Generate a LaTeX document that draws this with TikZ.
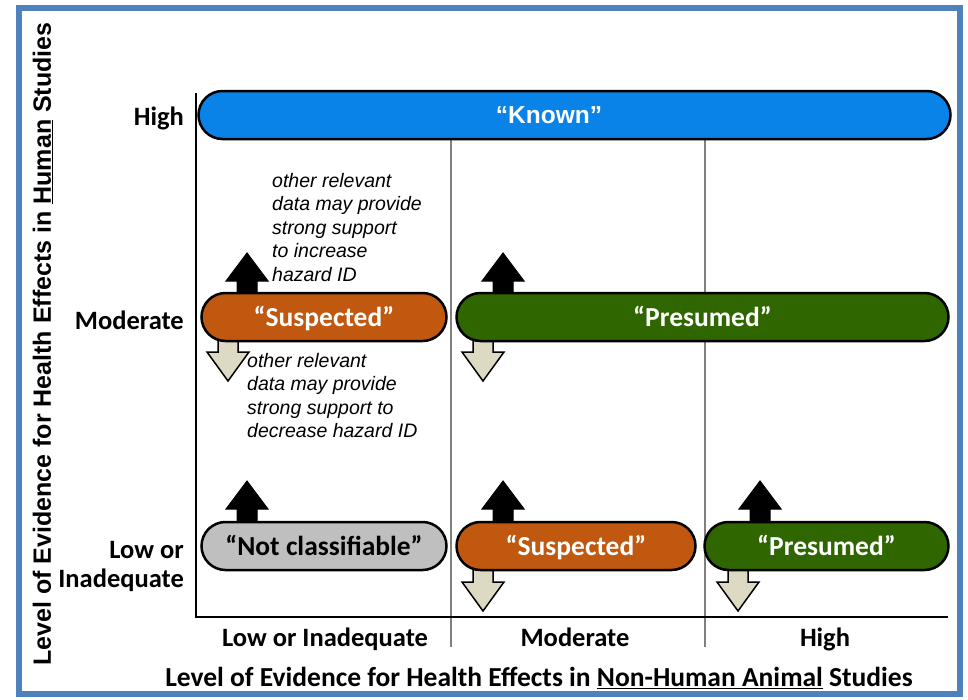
\documentclass[tikz,border=0pt]{standalone}
\usepackage{fontspec}
\setmainfont{Liberation Sans}
\newfontfamily\calibri{Carlito}
\usetikzlibrary{shapes.misc}

\definecolor{frameblue}{HTML}{4F81BD}
\definecolor{knownblue}{HTML}{0A83E8}
\definecolor{susporange}{HTML}{C0580F}
\definecolor{presgreen}{HTML}{2F6600}
\definecolor{notgray}{HTML}{BFBFBF}
\definecolor{downbeige}{HTML}{DDD9C3}

\begin{document}
\begin{tikzpicture}[x=1pt, y=-1pt,
    bar/.style = {rounded rectangle, draw=black, line width=2.5pt, minimum height=48pt, inner sep=0pt, text height=18pt, text depth=0pt, text=white, font=\calibri\bfseries\fontsize{27.5}{30}\selectfont},
    lvl/.style = {font=\calibri\bfseries\fontsize{26.5}{29}\selectfont, inner sep=0pt},
    note/.style = {anchor=north west, align=left, inner sep=0pt, font=\itshape\fontsize{19.5}{23.5}\selectfont},
    up arrow/.pic = {\draw[fill=black, line width=1pt] (-10,5) -- (-10,-11) -- (-21,-11) -- (0,-39) -- (21,-11) -- (10,-11) -- (10,5) -- cycle;},
    down arrow/.pic = {\draw[fill=downbeige, line width=1.5pt] (-10,-5) -- (-10,10) -- (-21,10) -- (0,39) -- (21,10) -- (10,10) -- (10,-5) -- cycle;}]

    \useasboundingbox (0,0) rectangle (968,699);
    \fill[white] (0,0) rectangle (968,699);
    \draw[frameblue, line width=6pt] (19,8) rectangle (960,694);

    % grid
    \draw[gray, line width=2.5pt] (451,140) -- (451,647);
    \draw[gray, line width=2.5pt] (705,140) -- (705,647);
    \draw[black, line width=2.5pt] (196,93) -- (196,617) -- (948,617);

    % arrows
    \pic at (247,292) {up arrow};
    \pic at (247,520) {up arrow};
    \pic at (503,292) {up arrow};
    \pic at (503,520) {up arrow};
    \pic at (760,520) {up arrow};
    \pic at (228,342) {down arrow};
    \pic at (483,342) {down arrow};
    \pic at (483,572) {down arrow};
    \pic at (738,572) {down arrow};

    % bars
    \node[bar, fill=knownblue, minimum width=752pt] (known) at (574.5,115) {};
    \node[text=white, font=\bfseries\fontsize{24.5}{28}\selectfont, inner sep=0pt] (knowntext) at (549,115) {“Known”};
    \node[bar, fill=susporange, minimum width=245pt] (modsusp) at (324,317) {“Suspected”};
    \node[bar, fill=presgreen, minimum width=492pt] (modpres) at (702.5,317) {“Presumed”};
    \node[bar, fill=notgray, minimum width=245pt, text=black] (lownot) at (324,546) {“Not classifiable”};
    \node[bar, fill=susporange, minimum width=239pt] (lowsusp) at (576,546) {“Suspected”};
    \node[bar, fill=presgreen, minimum width=244pt] (lowpres) at (826.5,546) {“Presumed”};

    % notes
    \node[note] (upnote) at (272,173) {other relevant\\data may provide\\strong support\\to increase\\hazard ID};
    \node[note] (downnote) at (247,353) {other relevant\\data may provide\\strong support to\\decrease hazard ID};

    % level labels
    \node[lvl, anchor=east] (hhigh) at (184,118) {High};
    \node[lvl, anchor=east] (hmod) at (184,320) {Moderate};
    \node[lvl, anchor=east, align=right] (hlow) at (184,566) {Low or\\Inadequate};
    \node[lvl, anchor=base] (alow) at (325,646) {Low or Inadequate};
    \node[lvl, anchor=base] (amod) at (575,646) {Moderate};
    \node[lvl, anchor=base] (ahigh) at (825,646) {High};

    % axis titles
    \node[rotate=90, font=\bfseries\fontsize{25}{28}\selectfont, inner sep=0pt] (ytitle) at (43,344) {Level of Evidence for Health Effects in \underline{Human} Studies};
    \node[font=\calibri\bfseries\fontsize{27.5}{30}\selectfont, inner sep=0pt] (xtitle) at (539,678) {Level of Evidence for Health Effects in \underline{Non-Human Animal} Studies};

\end{tikzpicture}
\end{document}
